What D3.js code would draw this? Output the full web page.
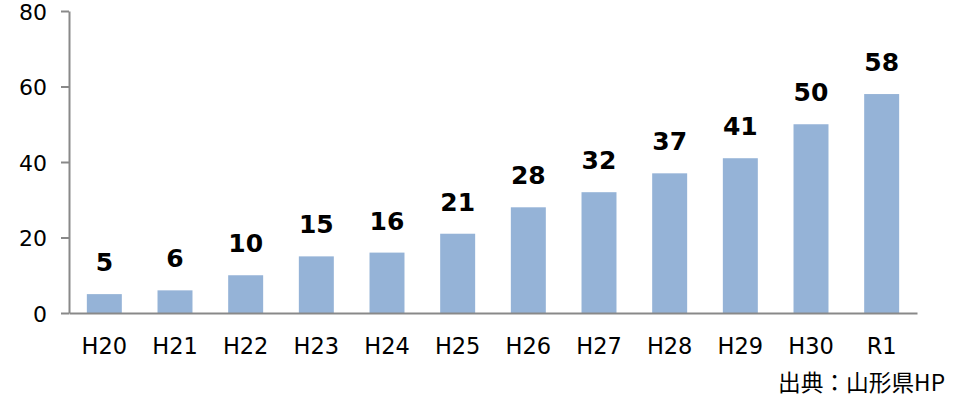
<!DOCTYPE html>
<html>
<head>
<meta charset="utf-8">
<script src="https://cdn.jsdelivr.net/npm/d3@7"></script>
<style>
  html, body { margin: 0; padding: 0; background: #fff; }
  svg { display: block; }
  text { font-family: "DejaVu Sans", Verdana, sans-serif; fill: #000; }
</style>
</head>
<body>
<svg id="chart" width="955" height="398"></svg>
<script>
// Yearly counts (Heisei 20 to Reiwa 1)
const categories = ["H20", "H21", "H22", "H23", "H24", "H25", "H26", "H27", "H28", "H29", "H30", "R1"];
const values = [5, 6, 10, 15, 16, 21, 28, 32, 37, 41, 50, 58];
const yTicks = [0, 20, 40, 60, 80];
const sourceNote = "出典：山形県HP";

const svg = d3.select("#chart");
const margin = { left: 69, right: 38, top: 11, bottom: 85 };
const W = 955, H = 398;

const x = d3.scaleBand()
  .domain(categories)
  .range([margin.left, W - margin.right])
  .paddingInner(0.505)
  .paddingOuter(0.2525);

const y = d3.scaleLinear()
  .domain([0, 80])
  .range([H - margin.bottom, margin.top]);

const axisColor = "#898989";

// Bars
svg.append("g").selectAll("rect")
  .data(values)
  .join("rect")
  .attr("x", (d, i) => x(categories[i]))
  .attr("y", d => y(d))
  .attr("width", x.bandwidth())
  .attr("height", d => y(0) - y(d))
  .attr("fill", "#95b3d7");

// Value labels
svg.append("g").selectAll("text")
  .data(values)
  .join("text")
  .attr("x", (d, i) => x(categories[i]) + x.bandwidth() / 2)
  .attr("y", d => y(d) - 23)
  .attr("text-anchor", "middle")
  .attr("font-size", 25)
  .attr("font-weight", "bold")
  .text(d => d);

// Y axis
const yAxis = svg.append("g")
  .attr("transform", `translate(${margin.left},0)`)
  .call(d3.axisLeft(y).tickValues(yTicks).tickSize(8).tickPadding(14).tickSizeOuter(0));
yAxis.select(".domain").attr("stroke", axisColor).attr("stroke-width", 2);
yAxis.selectAll(".tick line").attr("stroke", axisColor).attr("stroke-width", 2);
yAxis.selectAll(".tick text")
  .attr("font-size", 22)
  .attr("dy", "0.37em")
  .attr("fill", "#000");

// X axis
const xAxis = svg.append("g")
  .attr("transform", `translate(0,${y(0)})`)
  .call(d3.axisBottom(x).tickSize(0).tickPadding(25).tickSizeOuter(0));
xAxis.select(".domain").attr("stroke", axisColor).attr("stroke-width", 2);
xAxis.selectAll(".tick text")
  .attr("font-size", 22.5)
  .attr("fill", "#000");

// Source note
svg.append("text")
  .attr("x", 945)
  .attr("y", 391)
  .attr("text-anchor", "end")
  .attr("font-size", 22.7)
  .style("font-family", "'Noto Sans CJK JP', sans-serif")
  .text(sourceNote);
</script>
</body>
</html>
